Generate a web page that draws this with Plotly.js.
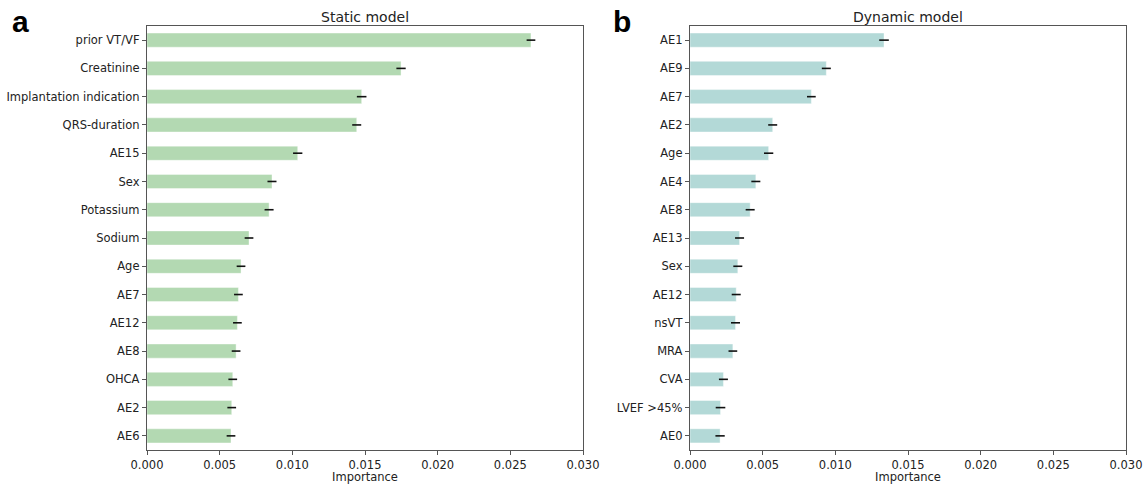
<!DOCTYPE html>
<html>
<head>
<meta charset="utf-8">
<script src="https://cdn.plot.ly/plotly-3.0.1.min.js"></script>
<style>html,body{margin:0;padding:0;background:#fff;}#chart{width:1143px;height:484px;}</style>
</head>
<body>
<div id="chart"></div>
<script>
const staticFeatures = ["prior VT/VF","Creatinine","Implantation indication","QRS-duration","AE15","Sex","Potassium","Sodium","Age","AE7","AE12","AE8","OHCA","AE2","AE6"];
const staticImportance = [0.02642,0.01748,0.01477,0.01443,0.01037,0.00860,0.00840,0.00702,0.00647,0.00629,0.00622,0.00613,0.00590,0.00583,0.00578];
const staticError = [0.00030,0.00032,0.00033,0.00031,0.00032,0.00031,0.00031,0.00030,0.00030,0.00030,0.00030,0.00030,0.00030,0.00030,0.00030];

const dynamicFeatures = ["AE1","AE9","AE7","AE2","Age","AE4","AE8","AE13","Sex","AE12","nsVT","MRA","CVA","LVEF >45%","AE0"];
const dynamicImportance = [0.01335,0.00938,0.00835,0.00569,0.00541,0.00453,0.00414,0.00341,0.00329,0.00318,0.00313,0.00295,0.00230,0.00210,0.00207];
const dynamicError = [0.00033,0.00031,0.00030,0.00031,0.00032,0.00031,0.00031,0.00031,0.00031,0.00031,0.00031,0.00030,0.00031,0.00033,0.00032];

const xTicks = [0,0.005,0.010,0.015,0.020,0.025,0.030];
const xTickText = ["0.000","0.005","0.010","0.015","0.020","0.025","0.030"];

const FONT = "DejaVu Sans, sans-serif";
const AXC = "#555";

function barTrace(y, x, e, color, xa, ya) {
  return {
    type: "bar", orientation: "h", y: y, x: x,
    xaxis: xa, yaxis: ya, width: 0.5,
    marker: {color: color, line: {color: "rgba(255,255,255,0.5)", width: 0.8}},
    error_x: {type: "data", array: e, visible: true, color: "#111", thickness: 1.6, width: 0},
    hoverinfo: "x+y", showlegend: false
  };
}

const traces = [
  barTrace(staticFeatures, staticImportance, staticError, "#b3d9b2", "x", "y"),
  barTrace(dynamicFeatures, dynamicImportance, dynamicError, "#b3d9d7", "x2", "y2")
];

function xaxis(domain, anchor) {
  return {
    domain: domain, anchor: anchor, range: [0, 0.030], tickvals: xTicks, ticktext: xTickText,
    showgrid: false, zeroline: false, showline: true, mirror: true, linecolor: AXC, linewidth: 1.2,
    ticks: "outside", ticklen: 4, tickcolor: AXC, tickwidth: 1,
    tickfont: {family: FONT, size: 11.5, color: "#222"},
    title: {text: "Importance", font: {family: FONT, size: 11.5, color: "#222"}, standoff: 3}
  };
}
function yaxis(domain, anchor, cats) {
  return {
    domain: domain, anchor: anchor, type: "category", categoryarray: cats, categoryorder: "array",
    range: [14.5, -0.5], autorange: false,
    showgrid: false, zeroline: false, showline: true, mirror: true, linecolor: AXC, linewidth: 1.2,
    ticks: "outside", ticklen: 4, tickcolor: AXC, tickwidth: 1,
    tickfont: {family: FONT, size: 11.5, color: "#222"}
  };
}

const yDom = [1 - 450/484, 1 - 26/484];
const layout = {
  width: 1143, height: 484,
  margin: {l: 0, r: 0, t: 0, b: 0},
  paper_bgcolor: "#fff", plot_bgcolor: "#fff",
  bargap: 0.5,
  xaxis: xaxis([147/1143, 583/1143], "y"),
  yaxis: yaxis(yDom, "x", staticFeatures),
  xaxis2: xaxis([690/1143, 1126/1143], "y2"),
  yaxis2: yaxis(yDom, "x2", dynamicFeatures),
  annotations: [
    {text: "Static model", x: (147+583)/2/1143, y: 1 - 17/484, xref: "paper", yref: "paper", xanchor: "center", yanchor: "middle", showarrow: false, font: {family: FONT, size: 14, color: "#222"}},
    {text: "Dynamic model", x: (690+1126)/2/1143, y: 1 - 17/484, xref: "paper", yref: "paper", xanchor: "center", yanchor: "middle", showarrow: false, font: {family: FONT, size: 14, color: "#222"}},
    {text: "<b>a</b>", x: 20/1143, y: 1 - 22/484, xref: "paper", yref: "paper", xanchor: "center", yanchor: "middle", showarrow: false, font: {family: "Liberation Sans, Arial, sans-serif", size: 30, color: "#000"}},
    {text: "<b>b</b>", x: 622/1143, y: 1 - 22/484, xref: "paper", yref: "paper", xanchor: "center", yanchor: "middle", showarrow: false, font: {family: "Liberation Sans, Arial, sans-serif", size: 30, color: "#000"}}
  ]
};

Plotly.newPlot("chart", traces, layout, {staticPlot: true, displayModeBar: false});
</script>
</body>
</html>
